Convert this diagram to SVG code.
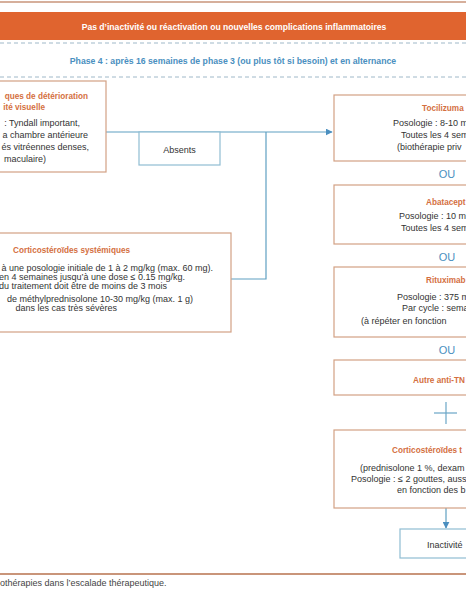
<svg xmlns="http://www.w3.org/2000/svg" width="466" height="600" viewBox="0 0 466 600">
<defs>
<style>
.t{font-family:"Liberation Sans",Arial,sans-serif;}
.body{font-size:9px;fill:#333;}
.ttl{font-size:8.2px;font-weight:bold;fill:#d4703f;}
.box{fill:#fff;stroke:#d2a184;stroke-width:1.2;}
.bbox{fill:#fff;stroke:#8fbdd2;stroke-width:1.2;}
.ln{fill:none;stroke:#5fa0c2;stroke-width:1.2;}
.ou{font-size:11px;fill:#4a8fc0;}
</style>
<marker id="ar" viewBox="0 0 10 10" refX="9" refY="5" markerWidth="7" markerHeight="7" orient="auto" markerUnits="userSpaceOnUse">
<path d="M0,0 L10,5 L0,10 z" fill="#4a8fc0"/>
</marker>
</defs>
<rect width="466" height="600" fill="#fff"/>
<line x1="0" y1="2" x2="466" y2="2" stroke="#c9957a" stroke-width="1.5"/>
<g id="banner">
<rect x="0" y="12" width="466" height="28" fill="#e0642f"/>
<text class="t" x="234" y="29.5" text-anchor="middle" font-size="8.6" font-weight="bold" fill="#fff">Pas d’inactivité ou réactivation ou nouvelles complications inflammatoires</text>
</g>
<g id="phase">
<line x1="0" y1="43" x2="466" y2="43" stroke="#9fb8c8" stroke-width="1" stroke-dasharray="4,3"/>
<line x1="0" y1="77" x2="466" y2="77" stroke="#9fb8c8" stroke-width="1" stroke-dasharray="4,3"/>
<text class="t" x="233" y="63.5" text-anchor="middle" font-size="8.7" font-weight="bold" fill="#4a8fc0">Phase 4 : après 16 semaines de phase 3 (ou plus tôt si besoin) et en alternance</text>
</g>
<g id="connectors">
<line class="ln" x1="106" y1="132" x2="332" y2="132" marker-end="url(#ar)"/>
<polyline class="ln" points="231,279 266,279 266,132"/>
<line class="ln" x1="446" y1="508" x2="446" y2="528" marker-end="url(#ar)"/>
</g>
<g id="signes">
<rect class="box" x="-5" y="81" width="111" height="91"/>
<text class="t ttl" x="88" y="99" text-anchor="end">ques de détérioration</text>
<text class="t ttl" x="45" y="110" text-anchor="end">ité visuelle</text>
<text class="t body" x="80" y="126" text-anchor="end">: Tyndall important,</text>
<text class="t body" x="88" y="138" text-anchor="end">a chambre antérieure</text>
<text class="t body" x="89" y="150" text-anchor="end">és vitréennes denses,</text>
<text class="t body" x="46" y="162" text-anchor="end">maculaire)</text>
</g>
<g id="absents">
<rect class="bbox" x="139" y="132" width="81" height="33"/>
<text class="t" x="179.5" y="152.5" text-anchor="middle" font-size="9" fill="#333">Absents</text>
</g>
<g id="cortico-sys">
<rect class="box" x="-5" y="233" width="236" height="99"/>
<text class="t ttl" x="130" y="253" text-anchor="end">Corticostéroïdes systémiques</text>
<text class="t body" x="213" y="271" text-anchor="end">à une posologie initiale de 1 à 2 mg/kg (max. 60 mg).</text>
<text class="t body" x="185" y="280" text-anchor="end">en 4 semaines jusqu’à une dose ≤ 0.15 mg/kg.</text>
<text class="t body" x="167" y="289" text-anchor="end">du traitement doit être de moins de 3 mois</text>
<text class="t body" x="193" y="302" text-anchor="end">de méthylprednisolone 10-30 mg/kg (max. 1 g)</text>
<text class="t body" x="117" y="311" text-anchor="end">dans les cas très sévères</text>
</g>
<g id="tocilizumab">
<rect class="box" x="334" y="95" width="140" height="66"/>
<text class="t ttl" x="422" y="111">Tocilizuma</text>
<text class="t body" x="393" y="126">Posologie : 8-10 m</text>
<text class="t body" x="401" y="138">Toutes les 4 sem</text>
<text class="t body" x="397" y="150">(biothérapie priv</text>
</g>
<text class="t ou" x="447" y="178" text-anchor="middle">OU</text>
<g id="abatacept">
<rect class="box" x="334" y="185" width="140" height="59"/>
<text class="t ttl" x="426" y="205">Abatacept</text>
<text class="t body" x="399" y="219">Posologie : 10 m</text>
<text class="t body" x="401" y="231">Toutes les 4 sem</text>
</g>
<text class="t ou" x="447" y="261" text-anchor="middle">OU</text>
<g id="rituximab">
<rect class="box" x="334" y="267" width="140" height="70"/>
<text class="t ttl" x="426" y="283">Rituximab</text>
<text class="t body" x="397" y="300">Posologie : 375 m</text>
<text class="t body" x="402" y="311">Par cycle : semai</text>
<text class="t body" x="361" y="324">(à répéter en fonction</text>
</g>
<text class="t ou" x="447" y="354" text-anchor="middle">OU</text>
<g id="antitnf">
<rect class="box" x="334" y="360" width="140" height="35"/>
<text class="t ttl" x="413" y="383">Autre anti-TN</text>
</g>
<g id="plus">
<line x1="434" y1="413" x2="457" y2="413" stroke="#6aa6c6" stroke-width="1.2"/>
<line x1="446" y1="402" x2="446" y2="424" stroke="#6aa6c6" stroke-width="1.2"/>
</g>
<g id="cortico-top">
<rect class="box" x="334" y="430" width="140" height="78"/>
<text class="t ttl" x="392" y="453">Corticostéroïdes t</text>
<text class="t body" x="360" y="471">(prednisolone 1 %, dexam</text>
<text class="t body" x="351" y="482">Posologie : ≤ 2 gouttes, auss</text>
<text class="t body" x="397" y="493">en fonction des b</text>
</g>
<g id="inactivite">
<rect class="bbox" x="400" y="529" width="74" height="29"/>
<text class="t" x="427" y="547.5" font-size="9" fill="#333">Inactivité</text>
</g>
<line x1="0" y1="574" x2="466" y2="574" stroke="#c9957a" stroke-width="2"/>
<text class="t" x="0" y="586" font-size="9" fill="#444">othérapies dans l’escalade thérapeutique.</text>
</svg>
